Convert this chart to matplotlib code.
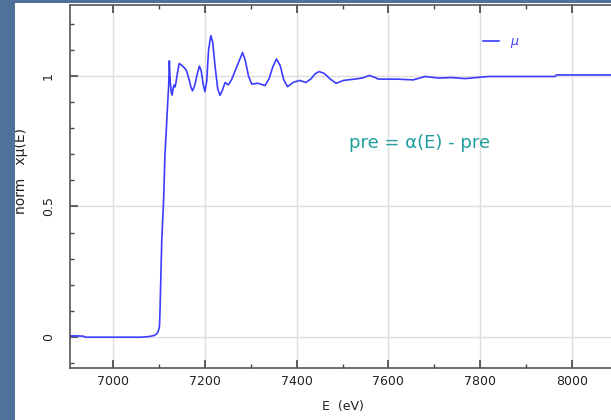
import matplotlib
matplotlib.use("Agg")
import matplotlib.pyplot as plt
from matplotlib.patches import Rectangle
from matplotlib.ticker import MultipleLocator

# Normalized absorption spectrum: energy (eV) and normalized mu(E)
energy = [6906, 6920, 6935, 6940, 7000, 7060, 7080, 7090, 7095, 7098,
          7101, 7102, 7104, 7106, 7110, 7113, 7117, 7119, 7121, 7122.5,
          7124.5, 7127, 7128.5, 7131, 7133, 7135, 7137, 7140, 7144, 7150,
          7156, 7160, 7165, 7170, 7173, 7178, 7183, 7188, 7192, 7196,
          7200, 7204, 7208, 7213, 7217, 7222, 7228, 7233, 7238, 7244,
          7251, 7258, 7266, 7274, 7282, 7288, 7295, 7302, 7316, 7331,
          7340, 7348, 7356, 7364, 7372, 7380, 7393, 7407, 7420, 7432,
          7440, 7449, 7460, 7472, 7486, 7502, 7531, 7545, 7558, 7570,
          7578, 7603, 7618, 7654, 7680, 7709, 7738, 7767, 7792, 7818,
          7963, 7966, 8100]
mu = [0.004, 0.004, 0.003, -0.001, -0.001, -0.001, 0.002, 0.006, 0.012, 0.02,
      0.04, 0.09, 0.23, 0.37, 0.525, 0.70, 0.83, 0.90, 0.96, 1.058,
      0.975, 0.935, 0.927, 0.955, 0.965, 0.958, 0.975, 1.01, 1.048, 1.040,
      1.030, 1.02, 0.99, 0.955, 0.943, 0.965, 1.005, 1.038, 1.02, 0.97,
      0.94, 0.98, 1.10, 1.155, 1.13, 1.04, 0.95, 0.926, 0.945, 0.975,
      0.966, 0.985, 1.02, 1.055, 1.090, 1.06, 1.0, 0.969, 0.972, 0.963,
      0.99, 1.035, 1.065, 1.04, 0.985, 0.959, 0.976, 0.983, 0.975, 0.99,
      1.008, 1.017, 1.01, 0.99, 0.972, 0.983, 0.989, 0.993, 1.002, 0.995,
      0.988, 0.988, 0.988, 0.985, 0.998, 0.992, 0.994, 0.990, 0.994, 0.998,
      0.998, 1.004, 1.004]

x_ticks = [7000, 7200, 7400, 7600, 7800, 8000]
y_ticks = [0, 0.5, 1]
y_tick_labels = ["0", "0.5", "1"]

W, H = 611, 420
fig = plt.figure(figsize=(W / 100, H / 100), dpi=100)
fig.patch.set_facecolor("white")

# slide border strips
fig.patches.append(Rectangle((0, 0), 15 / W, 1, transform=fig.transFigure,
                             facecolor="#4f729c", edgecolor="none", zorder=0))
fig.patches.append(Rectangle((0, 1 - 3 / H), 1, 3 / H, transform=fig.transFigure,
                             facecolor="#4f729c", edgecolor="none", zorder=0))

left, right, top, bottom = 70, 616, 5, 368
ax = fig.add_axes([left / W, 1 - bottom / H, (right - left) / W, (bottom - top) / H])
ax.set_facecolor("white")

ax.plot(energy, mu, color="#3c3cff", lw=1.2, label=r"$\mu$")

ax.set_xlim(6906, 8096)
ax.set_ylim(-0.119, 1.272)

ax.set_xticks(x_ticks)
ax.set_yticks(y_ticks)
ax.set_yticklabels(y_tick_labels)
ax.xaxis.set_minor_locator(MultipleLocator(100))
ax.yaxis.set_minor_locator(MultipleLocator(0.1))

ax.grid(True, which="major", color="#dedede", lw=1.0)
ax.set_axisbelow(True)

for side in ("left", "bottom", "top"):
    ax.spines[side].set_color("#555555")
    ax.spines[side].set_linewidth(1.2)
ax.spines["right"].set_visible(False)

ax.tick_params(axis="both", which="major", direction="in", length=6, width=1.2,
               color="#444444", labelsize=9, labelcolor="#222222")
ax.tick_params(axis="both", which="minor", direction="in", length=3, width=1.0,
               color="#444444")
ax.tick_params(axis="x", which="both", top=True, pad=5)
ax.tick_params(axis="y", which="both", right=False, pad=11, labelrotation=90)
for lbl in ax.get_yticklabels():
    lbl.set_va("center")

ax.set_xlabel("E  (eV)", fontsize=9, color="#222222", labelpad=9)
ax.set_ylabel("norm   x\u03bc(E)", fontsize=10, color="#222222")
ax.yaxis.set_label_coords(-42 / (right - left), (bottom - 171) / (bottom - top))

leg = ax.legend(loc="center left", bbox_to_anchor=((483 - left) / (right - left),
                                                   (bottom - 43) / (bottom - top)),
                frameon=False, fontsize=9, handlelength=1.3, handletextpad=0.9,
                borderpad=0, borderaxespad=0, labelcolor="#3c3cff")

ax.text((420 - left) / (right - left), (bottom - 143) / (bottom - top),
        "pre = \u03b1(E) - pre", transform=ax.transAxes, ha="center", va="center",
        fontsize=13, color="#1f9e9e")

fig.savefig("out.png", dpi=100)
